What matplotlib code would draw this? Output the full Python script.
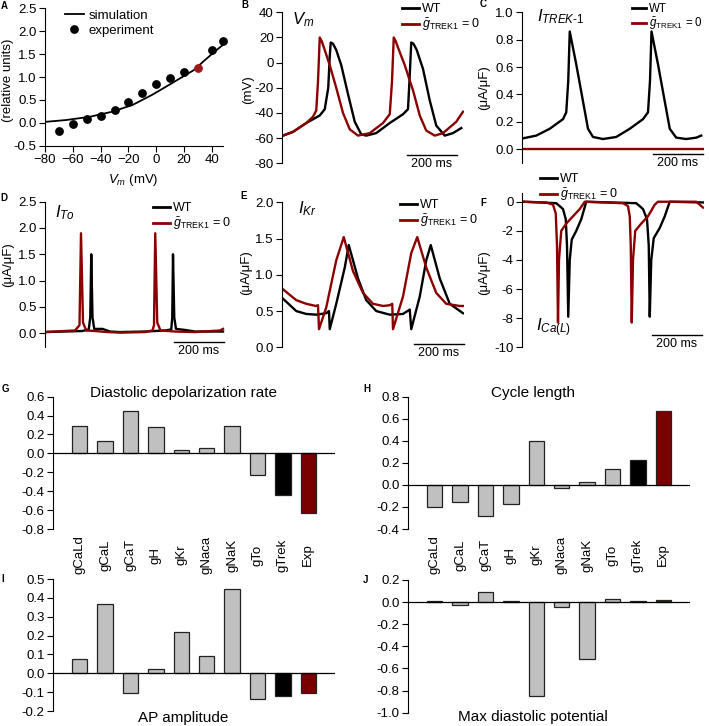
import matplotlib
matplotlib.use('Agg')
import matplotlib.pyplot as plt
from matplotlib.lines import Line2D
from matplotlib.transforms import blended_transform_factory

plt.rcParams['font.family'] = ['Liberation Sans', 'DejaVu Sans']
plt.rcParams['mathtext.fontset'] = 'custom'
plt.rcParams['mathtext.rm'] = 'Liberation Sans'
plt.rcParams['mathtext.it'] = 'Liberation Sans:italic'
plt.rcParams['mathtext.bf'] = 'Liberation Sans:bold'

RED = '#8b0000'
BARRED = '#7a0000'
GRAY = '#c0c0c0'

# ---- panel A: relative current vs Vm
exp_v = [-70, -60, -50, -40, -30, -20, -10, 0, 10, 20, 30, 40, 48]
exp_i = [-0.17, -0.03, 0.09, 0.15, 0.27, 0.45, 0.64, 0.85, 0.98, 1.10, 1.20, 1.60, 1.79]
sim_v = [-80, -65, -48, -32, -17, -3, 11, 27, 35, 45, 48]
sim_i = [0.02, 0.06, 0.13, 0.24, 0.39, 0.61, 0.86, 1.15, 1.37, 1.63, 1.70]

# ---- panel B: membrane potential (ms, mV)
vm_t_wt = [0, 40, 93, 147, 167, 181, 187, 191, 200, 213, 233, 260, 287, 313, 333, 373, 427, 480, 500, 507, 513, 522, 535, 560, 587, 613, 647, 680, 713]
vm_wt = [-58, -55, -48, -42, -37, -20, 5, 16, 15, 10, -2, -25, -47, -57, -58, -56, -48, -41, -37, -10, 16, 15, 10, -5, -30, -50, -58, -56, -52]
vm_t_ko = [0, 40, 93, 120, 133, 140, 147, 155, 167, 187, 213, 240, 267, 300, 347, 400, 427, 436, 443, 451, 460, 487, 520, 547, 573, 607, 640, 693, 720]
vm_ko = [-58, -55, -48, -43, -38, -15, 20, 17, 10, -2, -20, -40, -53, -58, -56, -48, -41, -15, 20, 17, 12, -2, -22, -42, -54, -58, -56, -47, -39]

# ---- panel C: I_TREK-1
trek_t_wt = [0, 53, 107, 160, 173, 181, 187, 213, 240, 260, 280, 320, 373, 427, 480, 500, 508, 514, 540, 567, 587, 613, 653, 693, 713]
trek_wt = [0.08, 0.10, 0.15, 0.22, 0.27, 0.50, 0.86, 0.62, 0.35, 0.15, 0.09, 0.075, 0.09, 0.15, 0.22, 0.27, 0.50, 0.86, 0.62, 0.35, 0.15, 0.085, 0.075, 0.085, 0.10]
trek_t_ko = [0, 720]
trek_ko = [0.0, 0.0]

# ---- panel D: I_To
ito_t_wt = [0, 150, 175, 181, 185, 190, 197, 230, 260, 300, 400, 480, 505, 509, 512, 517, 524, 560, 600, 712]
ito_wt = [0.02, 0.04, 0.07, 0.30, 1.50, 0.30, 0.08, 0.08, 0.03, 0.02, 0.03, 0.05, 0.07, 0.30, 1.50, 0.30, 0.08, 0.06, 0.03, 0.03]
ito_t_ko = [0, 120, 138, 144, 152, 165, 200, 250, 300, 400, 430, 436, 441, 449, 462, 520, 600, 700, 712]
ito_ko = [0.02, 0.05, 0.15, 1.90, 0.20, 0.05, 0.04, 0.02, 0.01, 0.02, 0.05, 0.15, 1.90, 0.20, 0.05, 0.03, 0.02, 0.05, 0.08]

# ---- panel E: I_Kr
ikr_t_wt = [0, 53, 93, 133, 173, 184, 187, 213, 247, 263, 300, 333, 373, 427, 480, 507, 513, 547, 573, 591, 627, 667, 720]
ikr_wt = [0.67, 0.50, 0.46, 0.45, 0.47, 0.50, 0.25, 0.60, 1.10, 1.41, 0.95, 0.65, 0.50, 0.45, 0.46, 0.52, 0.25, 0.70, 1.20, 1.41, 0.95, 0.60, 0.47]
ikr_t_ko = [0, 53, 93, 131, 140, 144, 173, 213, 243, 280, 320, 360, 400, 427, 437, 440, 480, 513, 537, 573, 613, 653, 707, 720]
ikr_ko = [0.80, 0.65, 0.60, 0.57, 0.58, 0.25, 0.55, 1.20, 1.52, 1.05, 0.75, 0.60, 0.57, 0.58, 0.60, 0.25, 0.70, 1.30, 1.52, 1.10, 0.75, 0.60, 0.57, 0.57]

# ---- panel F: I_Ca(L)
ica_t_wt = [0, 133, 160, 171, 176, 181, 187, 195, 213, 233, 253, 453, 480, 496, 503, 507, 513, 523, 547, 567, 587, 720]
ica_wt = [0, -0.1, -0.5, -1.2, -3.0, -7.9, -4.0, -2.6, -2.0, -1.2, 0, -0.1, -0.5, -1.2, -3.0, -7.9, -4.0, -2.5, -1.8, -1.0, 0, -0.05]
ica_t_ko = [0, 93, 120, 131, 136, 140, 144, 153, 173, 200, 227, 247, 400, 420, 427, 431, 435, 440, 449, 473, 500, 527, 540, 693, 720]
ica_ko = [0, -0.05, -0.2, -0.8, -3.0, -8.3, -4.0, -2.0, -1.5, -1.0, -0.5, 0, -0.1, -0.3, -1.0, -3.0, -8.3, -4.0, -2.0, -1.5, -1.0, -0.2, 0, 0, -0.4]

# ---- panels G-J: sensitivity bars
params = ['gCaLd', 'gCaL', 'gCaT', 'gH', 'gKr', 'gNaca', 'gNaK', 'gTo', 'gTrek', 'Exp']
ddr = [0.29, 0.13, 0.445, 0.275, 0.035, 0.055, 0.29, -0.23, -0.445, -0.635]
cycle = [-0.196, -0.157, -0.278, -0.175, 0.396, -0.027, 0.027, 0.148, 0.227, 0.668]
ap_amp = [0.076, 0.366, -0.106, 0.021, 0.217, 0.094, 0.449, -0.134, -0.122, -0.106]
mdp = [0.009, -0.03, 0.087, 0.009, -0.85, -0.048, -0.51, 0.03, 0.006, 0.021]
bar_colors = [GRAY] * 8 + ['black', BARRED]

W, H = 709, 726
fig = plt.figure(figsize=(W / 100, H / 100), dpi=100)


def add_ax(left, top, right, bottom):
    return fig.add_axes([left / W, 1 - bottom / H, (right - left) / W, (bottom - top) / H])


def ftext(x, y, s, **kw):
    fig.text(x / W, 1 - y / H, s, **kw)


def trace_ax(ax, ylim, yticks, fmt):
    for s in ['top', 'right', 'bottom']:
        ax.spines[s].set_visible(False)
    ax.set_xticks([])
    ax.set_ylim(ylim)
    ax.set_yticks(yticks)
    ax.set_yticklabels([fmt.format(v) for v in yticks])
    ax.tick_params(axis='y', labelsize=9.5, length=4, width=0.8, pad=2)
    ax.set_xlim(-4, 724)


def scale_bar(ax, t0, y_px):
    tr = blended_transform_factory(ax.transData, fig.transFigure)
    yf = 1 - y_px / H
    ax.plot([t0, t0 + 200], [yf, yf], color='black', lw=1, transform=tr, clip_on=False)
    ax.text(t0 + 100, yf - 3 / H, '200 ms', transform=tr, ha='center', va='top', fontsize=9)


def legend2(ax, x_px, y_px, fs=9, hl=1.3):
    h = [Line2D([], [], color='black', lw=2), Line2D([], [], color=RED, lw=2)]
    ax.legend(h, ['WT', r'$\bar{g}_{\mathrm{TREK1}}$ = 0'], loc='upper left',
              bbox_to_anchor=(x_px / W, 1 - y_px / H), bbox_transform=fig.transFigure,
              frameon=False, borderpad=0, handlelength=hl, handletextpad=0.3,
              labelspacing=0.1, fontsize=fs)


LW = 1.7
ULABEL = '(\u03bcA/\u03bcF)'

# A
ax = add_ax(45, 8.3, 223, 145.7)
ax.plot(sim_v, sim_i, color='black', lw=1.3, label='simulation')
ax.plot(exp_v[:10], exp_i[:10], 'o', color='black', ms=5.3, label='experiment')
ax.plot(exp_v[11:], exp_i[11:], 'o', color='black', ms=5.3, clip_on=False)
ax.plot(exp_v[10], exp_i[10], 'o', color='#a01818', ms=5.3)
ax.set_xlim(-80, 48)
ax.set_ylim(-0.5, 2.5)
ax.set_xticks(range(-80, 41, 20))
ax.set_yticks([-0.5, 0, 0.5, 1.0, 1.5, 2.0, 2.5])
ax.set_yticklabels(['{:.1f}'.format(v) for v in [-0.5, 0, 0.5, 1.0, 1.5, 2.0, 2.5]])
for s in ['top', 'right']:
    ax.spines[s].set_visible(False)
ax.tick_params(labelsize=9.5, length=4, width=0.8, pad=2)
ax.legend(loc='upper left', bbox_to_anchor=(58 / W, 1 - 3 / H), bbox_transform=fig.transFigure,
          frameon=False, borderpad=0, handlelength=1.5, handletextpad=0.3, labelspacing=0.2, fontsize=9.5)
ftext(8, 80, '(relative units)', rotation=90, ha='center', va='center', fontsize=9.5)
ftext(133, 180, r'$V_m$ (mV)', ha='center', va='center', fontsize=9.5)

# B
ax = add_ax(282, 12.3, 464, 163.3)
ax.plot(vm_t_wt, vm_wt, color='black', lw=LW)
ax.plot(vm_t_ko, vm_ko, color=RED, lw=LW)
trace_ax(ax, (-80, 40), [-80, -60, -40, -20, 0, 20, 40], '{:.0f}')
scale_bar(ax, 496, 155)
legend2(ax, 396, -3)
ftext(303, 20, r'$V_m$', fontsize=12, ha='center', va='center')
ftext(248, 90, '(mV)', rotation=90, ha='center', va='center', fontsize=9.5)

# C
ax = add_ax(522, 12.3, 704, 163)
ax.plot(trek_t_wt, trek_wt, color='black', lw=LW)
ax.plot(trek_t_ko, trek_ko, color=RED, lw=LW)
trace_ax(ax, (-0.1, 1.0), [0, 0.2, 0.4, 0.6, 0.8, 1.0], '{:.1f}')
scale_bar(ax, 520, 154)
legend2(ax, 626, -3, fs=8.3, hl=1.2)
ftext(537, 17, r'$I_{TREK\text{-}1}$', fontsize=12, ha='left', va='center')
ftext(484, 88, ULABEL, rotation=90, ha='center', va='center', fontsize=9.5)

# D
ax = add_ax(45, 201.7, 227, 347.3)
ax.plot(ito_t_wt, ito_wt, color='black', lw=LW)
ax.plot(ito_t_ko, ito_ko, color=RED, lw=LW)
trace_ax(ax, (-0.27, 2.5), [0, 0.5, 1.0, 1.5, 2.0, 2.5], '{:.1f}')
ax.set_xlim(0, 728)
scale_bar(ax, 516, 342)
legend2(ax, 147, 196)
ftext(55, 213, r'$I_{To}$', fontsize=12, ha='left', va='center')
ftext(8, 265, ULABEL, rotation=90, ha='center', va='center', fontsize=9.5)

# E
ax = add_ax(282, 202.3, 464, 347.3)
ax.plot(ikr_t_wt, ikr_wt, color='black', lw=LW)
ax.plot(ikr_t_ko, ikr_ko, color=RED, lw=LW)
trace_ax(ax, (0, 2.0), [0, 0.5, 1.0, 1.5, 2.0], '{:.1f}')
scale_bar(ax, 524, 344)
legend2(ax, 394, 193)
ftext(298, 209, r'$I_{Kr}$', fontsize=12, ha='left', va='center')
ftext(246, 273, ULABEL, rotation=90, ha='center', va='center', fontsize=9.5)

# F
ax = add_ax(522, 193, 704, 347.3)
ax.plot(ica_t_wt, ica_wt, color='black', lw=LW)
ax.plot(ica_t_ko, ica_ko, color=RED, lw=LW)
trace_ax(ax, (-10, 0.6), [-10, -8, -6, -4, -2, 0], '{:.0f}')
scale_bar(ax, 516, 335)
legend2(ax, 534, 167)
ftext(536, 328, r'$I_{Ca(L)}$', fontsize=12, ha='left', va='center')
ftext(484, 273, ULABEL, rotation=90, ha='center', va='center', fontsize=9.5)


# bar panels
def bar_ax(box, vals, ylim, yticks, title, title_x, title_y, xlabels):
    ax = add_ax(*box)
    x = list(range(len(params)))
    ax.bar(x, vals, width=0.6, color=bar_colors, edgecolor='#222222', linewidth=0.9, zorder=2)
    ax.set_xlim(-1.05, 10.05)
    ax.axhline(0, color='black', lw=0.9, zorder=3)
    ax.set_ylim(ylim)
    ax.set_yticks(yticks)
    ax.set_yticklabels(['{:.1f}'.format(v) for v in yticks])
    for s in ['top', 'right', 'bottom']:
        ax.spines[s].set_visible(False)
    ax.set_xticks([])
    ax.tick_params(axis='y', labelsize=9.5, length=4, width=0.8, pad=2)
    ftext(title_x, title_y, title, ha='center', va='center', fontsize=11)
    if xlabels:
        tr = blended_transform_factory(ax.transData, fig.transFigure)
        for i, p in enumerate(params):
            ax.text(i, 1 - 555 / H, p, rotation=90, ha='center', va='center', transform=tr, fontsize=9.5)
    return ax


bar_ax((53, 396.7, 335, 529), ddr, (-0.8, 0.6), [-0.8, -0.6, -0.4, -0.2, 0, 0.2, 0.4, 0.6],
       'Diastolic depolarization rate', 183, 393, True)
bar_ax((408, 396.7, 690, 529), cycle, (-0.4, 0.8), [-0.4, -0.2, 0, 0.2, 0.4, 0.6, 0.8],
       'Cycle length', 533, 393, True)
bar_ax((53, 579, 335, 711), ap_amp, (-0.2, 0.5), [-0.2, -0.1, 0, 0.1, 0.2, 0.3, 0.4, 0.5],
       'AP amplitude', 183, 718, False)
bar_ax((408, 580, 690, 712.7), mdp, (-1.0, 0.2), [-1.0, -0.8, -0.6, -0.4, -0.2, 0, 0.2],
       'Max diastolic potential', 533, 717, False)

# panel letters
for lab, x, y in [('A', 4, 6), ('B', 245, 5), ('C', 483, 4), ('D', 4, 198), ('E', 244, 196),
                  ('F', 483, 203), ('G', 5, 389), ('H', 367, 389), ('I', 3, 579), ('J', 366, 580)]:
    ftext(x, y, lab, fontsize=7, fontweight='bold', ha='center', va='center')

fig.savefig('out.png', dpi=100)
